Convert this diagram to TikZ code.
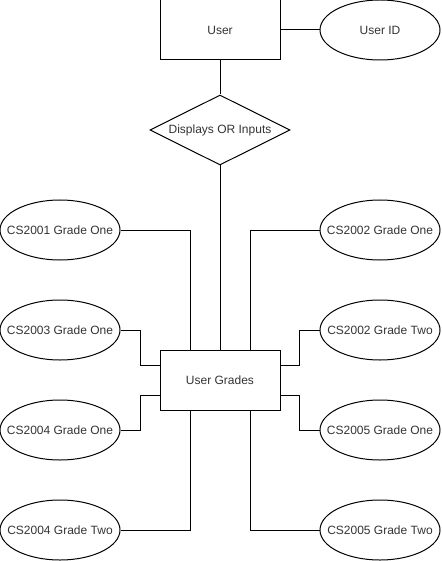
\documentclass[tikz,border=0pt]{standalone}
\usepackage{fontspec}
\setmainfont{Liberation Sans}
\usetikzlibrary{shapes.geometric}
\begin{document}
\begin{tikzpicture}[x=1pt,y=-1pt,line width=1pt,
  every node/.style={font=\fontsize{12}{14}\selectfont, text=black!80},
  entity/.style={draw=black, rectangle, minimum width=120pt, minimum height=60pt, inner sep=0pt},
  attr/.style={draw=black, ellipse, minimum width=120pt, minimum height=60pt, inner sep=0pt},
  rel/.style={draw=black, diamond, minimum width=140pt, minimum height=70pt, inner sep=0pt},
  link/.style={draw=black, line width=1pt}]
\useasboundingbox (0,0) rectangle (441,561);
\node[entity] (user) at (220,30) {\makebox[0pt]{User}};
\node[attr] (uid) at (380,30) {\makebox[0pt]{User ID}};
\node[rel] (rel) at (220,130) {\makebox[0pt]{Displays OR Inputs}};
\node[entity] (ug) at (220,380) {\makebox[0pt]{User Grades}};
\node[attr] (a1) at (60,230) {\makebox[0pt]{CS2001 Grade One}};
\node[attr] (a3) at (60,330) {\makebox[0pt]{CS2003 Grade One}};
\node[attr] (a4) at (60,430) {\makebox[0pt]{CS2004 Grade One}};
\node[attr] (a4b) at (60,530) {\makebox[0pt]{CS2004 Grade Two}};
\node[attr] (b2) at (380,230) {\makebox[0pt]{CS2002 Grade One}};
\node[attr] (b2b) at (380,330) {\makebox[0pt]{CS2002 Grade Two}};
\node[attr] (b5) at (380,430) {\makebox[0pt]{CS2005 Grade One}};
\node[attr] (b5b) at (380,530) {\makebox[0pt]{CS2005 Grade Two}};
\draw[link] (user.east) -- (uid.west);
\draw[link] (user.south) -- (rel.north);
\draw[link] (rel.south) -- (ug.north);
\draw[link] (a1.east) -| ([xshift=-30pt]ug.north);
\draw[link] (a3.east) -- ++(20,0) |- ([yshift=15pt]ug.west);
\draw[link] (a4.east) -- ++(20,0) |- ([yshift=-15pt]ug.west);
\draw[link] (a4b.east) -| ([xshift=-30pt]ug.south);
\draw[link] (b2.west) -| ([xshift=30pt]ug.north);
\draw[link] (b2b.west) -- ++(-20,0) |- ([yshift=15pt]ug.east);
\draw[link] (b5.west) -- ++(-20,0) |- ([yshift=-15pt]ug.east);
\draw[link] (b5b.west) -| ([xshift=30pt]ug.south);
\end{tikzpicture}
\end{document}
